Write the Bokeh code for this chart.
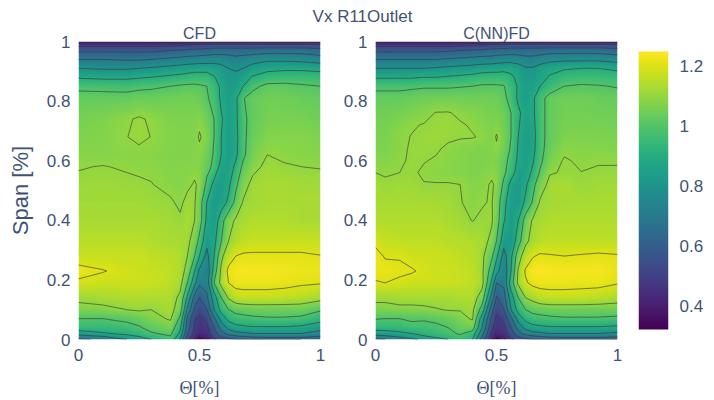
import numpy as np
from bokeh.core.properties import value
from bokeh.embed import file_html
from bokeh.layouts import column, row
from bokeh.models import FixedTicker, LinearColorMapper, Range1d
from bokeh.palettes import Viridis256
from bokeh.plotting import figure
from bokeh.resources import INLINE

main_title = "Vx R11Outlet"
panel_titles = ["CFD", "C(NN)FD"]
x_label = "Θ[%]"
y_label = "Span [%]"
x_ticks = [0, 0.5, 1]
x_tick_labels = ["0", "0.5", "1"]
y_ticks = [0, 0.2, 0.4, 0.6, 0.8, 1]
y_tick_labels = ["0", "0.2", "0.4", "0.6", "0.8", "1"]
bar_ticks = [0.4, 0.6, 0.8, 1, 1.2]
bar_tick_labels = ["0.4", "0.6", "0.8", "1", "1.2"]
line_levels = [0.4, 0.5, 0.6, 0.7, 0.8, 0.9, 1.0, 1.1, 1.2]
v_min = 0.323
v_max = 1.25

theta_cfd = [0, .1, .2, .25, .3, .38, .42, .45, .48, .5, .53, .56, .59, .62, .65, .68, .72, .78, .85, .92, 1]
span_cfd = [0, .008, .02, .04, .07, .1, .14, .19, .23, .28, .33, .4, .46, .52, .58, .62, .68, .74, .81, .85, .88, .91, .94, .97, .99, 1]
# Vx in hundredths, one row per span value, bottom to top
cfd_pct = [
    [68, 72, 80, 84, 90, 97, 80, 52, 42, 33, 38, 48, 56, 58, 60, 60, 60, 60, 60, 60, 62],
    [74, 78, 86, 89, 94, 99, 83, 56, 44, 38, 42, 52, 60, 64, 66, 68, 70, 71, 71, 71, 68],
    [84, 89, 92, 95, 99, 102, 88, 60, 47, 44, 46, 56, 66, 74, 77, 78, 80, 80, 80, 80, 76],
    [96, 95, 97, 99, 103, 106, 92, 65, 49, 46, 48, 60, 74, 83, 87, 88, 89, 89, 89, 88, 84],
    [100, 100, 102, 104, 107, 111, 98, 68, 51, 48, 52, 68, 84, 93, 96, 97, 98, 99, 99, 98, 94],
    [107, 108, 110, 111, 110, 113, 105, 78, 58, 53, 60, 80, 94, 100, 103, 104, 105, 105, 105, 105, 101],
    [112, 113, 114, 114, 114, 114, 108, 88, 66, 60, 68, 85, 100, 111, 116, 117, 117, 117, 116.5, 115.5, 113],
    [119, 118, 118, 118, 117, 116, 113, 100, 83, 72, 74, 100, 113, 120, 122.5, 122.5, 122.5, 122.5, 122, 121, 120.5],
    [122, 120.3, 118.5, 118, 117, 116, 114, 107, 90, 78, 72, 94, 112, 122, 123.5, 124, 123.5, 123.5, 123, 122.5, 122.5],
    [117, 117, 117, 117, 116, 115, 114, 110, 100, 90, 77, 90, 108, 116, 120, 121, 121, 121, 121, 121, 120.2],
    [115, 115, 115, 115, 114, 113, 113, 112, 106, 97, 83, 87, 100, 110, 114, 116, 117, 117, 117, 117, 117],
    [113, 113, 113, 113, 113, 112, 110.8, 113, 110, 105, 88, 83, 96, 107, 111, 113, 114, 114, 114, 113, 113],
    [112, 112, 112, 112, 111.5, 110.7, 109, 111.5, 110.5, 105, 90, 83, 85, 92, 103, 110.5, 112, 113, 113, 113, 113],
    [111, 111.5, 111, 110.8, 110.2, 108.5, 108, 109, 110.5, 109, 98, 87, 83, 88, 98, 107, 112, 113, 113, 112, 112],
    [109.7, 110.2, 109.5, 109, 109, 108, 108, 108, 108.5, 108, 103, 98, 86, 85, 92, 102, 108, 111.5, 110.5, 110, 109.7],
    [108, 108, 108.5, 108.5, 108.5, 107.5, 107.5, 107.5, 108, 108, 105, 99, 90, 84, 88, 98, 106, 110, 109, 108.5, 108],
    [107, 108, 109.9, 111.2, 109.9, 108, 107.5, 107.5, 107.5, 110.8, 107.2, 100, 90, 84, 87, 98, 104, 107.5, 108, 108, 107],
    [106, 107, 109.3, 110.7, 109.3, 107, 107, 107, 107, 108, 105, 100, 91, 85, 88, 98, 103, 106, 106, 106, 105],
    [103, 103, 103, 104, 104, 105, 105, 105.5, 105, 104, 101, 97, 88, 84, 88, 99.5, 103, 105, 105, 104, 103],
    [98, 97.5, 97, 98, 98.5, 100, 101, 101.5, 101.5, 101, 100, 95, 88, 83, 84, 90, 98, 102, 102, 101, 100],
    [89, 88, 88, 89, 90, 92, 93, 94, 95, 95, 95, 91, 85, 82, 82, 85, 91, 95, 96, 96, 95],
    [80, 79, 79, 80, 81, 83, 84, 85, 86, 86, 86, 85, 83, 80, 79, 80, 84, 87, 88, 88, 87],
    [70, 70, 69, 69, 70, 72, 73, 74, 74, 75, 75, 76, 76, 75, 73, 74, 76, 78, 78, 77, 75],
    [58, 58, 58, 58, 58, 60, 61, 62, 63, 63, 64, 65, 65, 65, 65, 65, 65, 66, 66, 66, 64],
    [46, 46, 46, 46, 46, 47, 48, 49, 50, 50, 51, 52, 52, 52, 52, 52, 52, 52, 52, 52, 52],
    [34, 34, 34, 34, 34, 34, 34, 34, 34, 35, 35, 36, 36, 36, 36, 36, 35, 35, 35, 35, 35],
]

theta_cnn = [0, .04, .1, .15, .2, .25, .3, .35, .4, .44, .48, .5, .53, .56, .59, .62, .65, .68, .72, .78, .85, .92, 1]
span_cnn = [0, .008, .02, .04, .07, .1, .14, .19, .23, .28, .33, .4, .46, .52, .56, .6, .64, .68, .72, .76, .81, .85, .88, .91, .94, .97, .99, 1]
cnn_pct = [
    [68, 70, 74, 78, 82, 86, 90, 94, 90, 66, 42, 33, 38, 48, 56, 58, 60, 60, 60, 60, 60, 60, 60],
    [74, 76, 80, 84, 88, 91, 94, 98, 93, 70, 45, 38, 42, 52, 60, 64, 66, 68, 70, 71, 71, 71, 69],
    [85, 86, 88, 90, 93, 96, 98, 101, 96, 74, 48, 44, 46, 56, 66, 74, 77, 78, 80, 80, 80, 80, 78],
    [94, 94, 95, 97, 97, 98, 100, 104, 105, 80, 52, 46, 48, 60, 74, 83, 87, 88, 89, 89, 89, 89, 88],
    [100.5, 100, 100, 101.5, 101, 102, 104, 107, 111, 85, 58, 48, 52, 68, 84, 93, 96, 97, 98, 99, 99, 99, 98],
    [107, 107, 108, 108, 108.5, 109.5, 110.5, 110.5, 112, 96, 64, 52, 60, 80, 94, 100, 103, 104, 105, 105, 105, 105, 105],
    [112, 112, 113, 113, 113, 113, 113, 114, 114, 106, 76, 59, 66, 85, 100, 110, 113, 116, 117, 117, 117, 116, 114],
    [119.5, 120, 119, 118, 118, 118, 118, 117, 116, 113, 88, 70, 72, 95, 112, 119, 122, 122.5, 122.5, 122.5, 122, 122, 120.5],
    [122, 122, 121, 120.5, 119, 118, 118, 117, 116, 112, 95, 84, 73, 90, 111, 121, 124, 124.5, 124, 123.5, 123.5, 123.5, 122],
    [122, 119.5, 119.6, 118, 118, 117.5, 117, 116, 115, 112, 102, 92, 76, 88, 106, 115, 119.5, 121, 120.5, 120, 120.5, 121, 120.5],
    [118.5, 117, 116, 116, 116, 116, 115, 114.5, 114, 113, 108, 100, 84, 82, 96, 108, 113, 115, 116, 116, 116, 116, 116],
    [114, 114, 114, 114, 114, 114, 113, 112, 109.8, 111, 111, 105, 91, 83, 90, 104, 111, 113, 114, 114, 114, 114, 114],
    [113, 113, 113, 113, 113, 112.5, 112, 110.3, 108.5, 109.5, 110.5, 106, 93, 84, 83, 92, 101, 111, 112, 113, 113, 113, 113],
    [112, 111, 112, 111.5, 110.2, 110.3, 110.3, 110, 108, 108.5, 110.6, 109, 98, 87, 83, 88, 97, 106, 112, 113, 111, 112, 112],
    [110, 109.4, 110, 110.6, 109.4, 108.5, 108.5, 108, 107, 107.5, 109, 108, 102, 95, 85, 85, 92, 101, 109.5, 110.5, 110.1, 110.6, 110.8],
    [108, 108, 109.3, 110.7, 110.2, 109.6, 108.5, 108, 107, 107, 107.5, 107, 103, 97, 88, 84, 89, 98, 106, 110.7, 109, 109.6, 109.5],
    [107, 107, 108.9, 110.6, 111, 110.5, 109.3, 108.2, 107.5, 107, 107.5, 109, 105, 99, 89, 84, 87, 97, 104, 108.5, 108, 108, 107.5],
    [106.5, 106.5, 109, 110.2, 111, 111.4, 110.7, 110.4, 110.3, 109.5, 107.5, 110.6, 106, 100, 90, 84, 86, 97, 103, 107, 107, 107, 106.5],
    [106, 106, 108, 109.5, 110.3, 110.8, 111.2, 110.5, 109.5, 108, 107, 108, 105, 100, 91, 85, 87, 97, 103, 106, 106, 106, 105.5],
    [105, 105, 106, 107, 108, 110.3, 110.4, 109, 108, 107, 106, 106, 104, 100, 92, 86, 88, 97, 103, 105.5, 105.5, 105, 105],
    [103, 103, 103, 104, 105, 105, 105, 105, 105, 105, 105, 104.5, 102, 97, 88, 84, 88, 97, 103, 105, 105, 104, 103],
    [98, 98, 98, 98.5, 99, 99, 99, 99.5, 100, 101, 101, 101, 100.5, 95, 89, 84, 85, 90, 95, 100, 101, 100.5, 99.5],
    [89, 89, 89, 89, 90, 90, 91, 92, 93, 95, 95, 95, 95, 92, 87, 83, 83, 86, 91, 95, 96, 96, 95],
    [80, 80, 80, 80, 80, 81, 82, 83, 84, 85, 86, 86, 87, 87, 85, 81, 81, 84, 87, 89, 90, 90, 88],
    [70, 70, 70, 70, 70, 70, 71, 72, 73, 74, 74, 75, 76, 76, 75, 73, 73, 75, 77, 78, 78, 78, 76],
    [58, 58, 58, 58, 58, 58, 59, 60, 61, 62, 63, 64, 64, 65, 65, 65, 65, 65, 66, 66, 66, 66, 64],
    [46, 46, 46, 46, 46, 46, 46, 47, 48, 49, 50, 50, 51, 52, 52, 52, 52, 52, 52, 52, 52, 52, 52],
    [34, 34, 34, 34, 34, 34, 34, 34, 34, 34, 35, 35, 36, 36, 36, 36, 36, 36, 35, 35, 35, 35, 35],
]

TEXT = "#3f5274"
SANS = "Liberation Sans"
mapper = LinearColorMapper(palette=Viridis256, low=v_min, high=v_max)


def raster(theta, span, z, nx=484, ny=596):
    """Bilinear display raster of the read-off grid (for a smooth colour fill)."""
    xs = np.linspace(0, 1, nx)
    ys = np.linspace(0, 1, ny)
    by_row = np.array([np.interp(xs, theta, r) for r in z])
    return np.array([np.interp(ys, span, c) for c in by_row.T]).T


def panel(theta, span, pct, title, width, left, with_label):
    z = np.array(pct, dtype=float) / 100
    p = figure(width=width, height=378, x_range=Range1d(0, 1), y_range=Range1d(0, 1),
               title=title, min_border_left=left, min_border_right=15, min_border_top=0, min_border_bottom=60,
               toolbar_location=None, output_backend="svg", outline_line_color=None)
    p.title.align = "center"
    p.title.text_font = SANS
    p.title.text_font_size = "16px"
    p.title.text_font_style = "normal"
    p.title.text_color = TEXT
    p.title.standoff = 0
    p.title.offset = 0
    p.grid.visible = False
    p.image(image=[raster(theta, span, z)], x=0, y=0, dw=1, dh=1, color_mapper=mapper)
    p.contour(theta, span, z, levels=line_levels, fill_color=None,
              line_color="#3a3a3a", line_width=0.9, line_alpha=0.7)
    p.xaxis.ticker = FixedTicker(ticks=x_ticks)
    p.xaxis.major_label_overrides = dict(zip(x_ticks, x_tick_labels))
    p.yaxis.ticker = FixedTicker(ticks=y_ticks)
    p.yaxis.major_label_overrides = dict(zip(y_ticks, y_tick_labels))
    for ax in (p.xaxis, p.yaxis):
        ax.axis_line_color = None
        ax.major_tick_line_color = None
        ax.minor_tick_line_color = None
        ax.major_label_text_font = SANS
        ax.major_label_text_font_size = "17px"
        ax.major_label_text_color = TEXT
    p.xaxis.major_label_standoff = 3
    p.yaxis.major_label_standoff = 2
    p.xaxis.axis_label = x_label
    p.xaxis.axis_label_text_font = "Liberation Serif"
    p.xaxis.axis_label_text_font_size = "18px"
    p.xaxis.axis_label_text_font_style = "normal"
    p.xaxis.axis_label_text_color = TEXT
    p.xaxis.axis_label_standoff = 14
    if with_label:
        p.yaxis.axis_label = y_label
        p.yaxis.axis_label_text_font = SANS
        p.yaxis.axis_label_text_font_size = "22px"
        p.yaxis.axis_label_text_font_style = "normal"
        p.yaxis.axis_label_text_color = TEXT
        p.yaxis.axis_label_standoff = 11
    return p


p1 = panel(theta_cfd, span_cfd, cfd_pct, panel_titles[0], 335, 78, True)
p2 = panel(theta_cnn, span_cnn, cnn_pct, panel_titles[1], 297, 40, False)

# same frame height as the panels: the range runs past the bar by 10 px at each end
per_px = (v_max - v_min) / 278
p3 = figure(width=82, height=378, x_range=Range1d(0, 1),
            y_range=Range1d(v_min - 10 * per_px, v_max + 10 * per_px),
            min_border_left=6, min_border_right=46, min_border_top=0, min_border_bottom=60,
            toolbar_location=None, output_backend="svg", outline_line_color=None,
            title=" ", x_axis_location=None, y_axis_location="right")
p3.title.text_font_size = "16px"
p3.title.standoff = 0
p3.title.offset = 0
p3.grid.visible = False
p3.image(image=[np.linspace(v_min, v_max, 256).reshape(-1, 1)], x=0, y=v_min, dw=1, dh=v_max - v_min,
         color_mapper=mapper)
p3.yaxis.ticker = FixedTicker(ticks=bar_ticks)
p3.yaxis.major_label_overrides = dict(zip(bar_ticks, bar_tick_labels))
p3.yaxis.axis_line_color = None
p3.yaxis.major_tick_line_color = None
p3.yaxis.minor_tick_line_color = None
p3.yaxis.major_label_text_font = SANS
p3.yaxis.major_label_text_font_size = "17px"
p3.yaxis.major_label_text_color = TEXT
p3.yaxis.major_label_standoff = 5

p0 = figure(width=714, height=30, x_range=Range1d(0, 1), y_range=Range1d(0, 1),
            min_border_left=0, min_border_right=0, min_border_top=0, min_border_bottom=0,
            toolbar_location=None, output_backend="svg", outline_line_color=None,
            x_axis_location=None, y_axis_location=None)
p0.grid.visible = False
p0.text(x=[0.507], y=[0.467], text=[main_title], text_align="center", text_baseline="middle",
        text_font=value(SANS), text_font_size="17px", text_color=TEXT)

page = column(p0, row(p1, p2, p3, spacing=0, margin=(-8, 0, 0, 0)), spacing=0)
open("out.html", "w").write(file_html(page, INLINE))
